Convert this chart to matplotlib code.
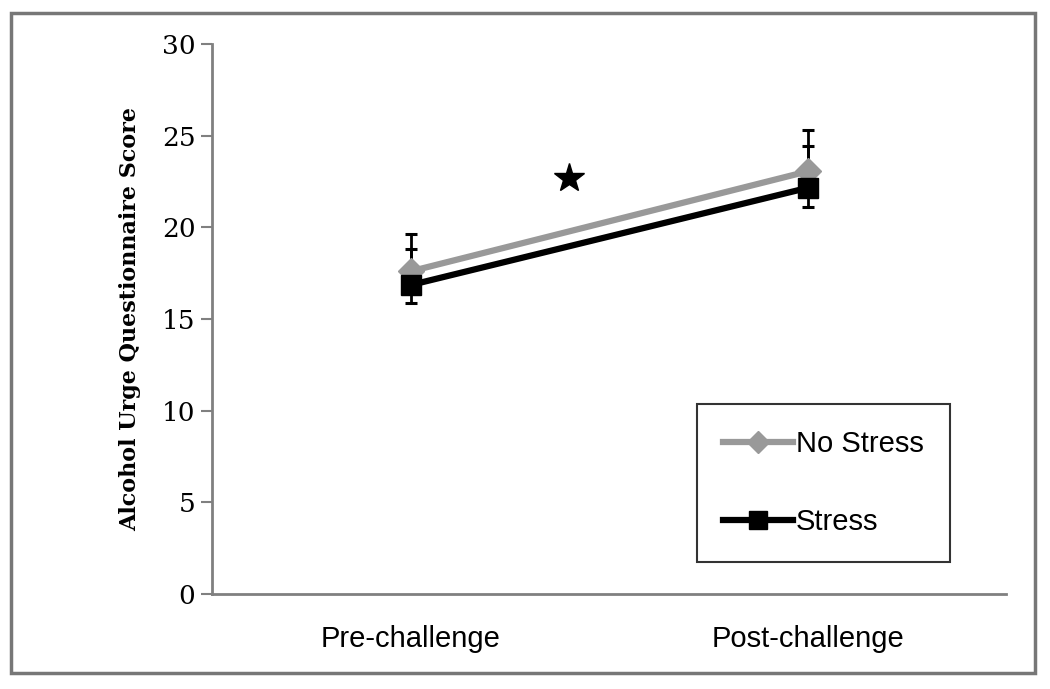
import matplotlib.pyplot as plt
from matplotlib.patches import Rectangle

# data
categories = ["Pre-challenge", "Post-challenge"]
no_stress = [17.6, 23.05]
no_stress_err_up = [2.05, 2.25]
no_stress_err_down = [0.0, 0.0]
stress = [16.85, 22.15]
stress_err_up = [1.95, 2.3]
stress_err_down = [0.95, 1.05]
star_pos = (0.4, 22.7)

fig = plt.figure(figsize=(10.5, 6.89), dpi=100)
ax = fig.add_axes([212 / 1050, 1 - 594 / 689, (1006 - 212) / 1050, (594 - 44) / 689])

x = list(range(len(categories)))

# error bars first, so markers sit on top
ax.errorbar(x, no_stress, yerr=[no_stress_err_down, no_stress_err_up], fmt="none",
            ecolor="black", elinewidth=2, capsize=4.5, capthick=2.2, zorder=2)
ax.errorbar(x, stress, yerr=[stress_err_down, stress_err_up], fmt="none",
            ecolor="black", elinewidth=2, capsize=4.5, capthick=2.2, zorder=2)

ax.plot(x, no_stress, color="#999999", linewidth=4.5, marker="D", markersize=13,
        label="No Stress", zorder=3)
ax.plot(x, stress, color="black", linewidth=4.5, marker="s", markersize=15,
        label="Stress", zorder=4)

# significance star
ax.plot(*star_pos, marker="*", color="black", markersize=22, zorder=5)

ax.set_xlim(-0.5, 1.5)
ax.set_ylim(0, 30)
ax.set_yticks(range(0, 31, 5))
ax.set_xticks(x)
ax.set_xticklabels(categories, fontsize=21, family="Liberation Sans")
for lab in ax.get_yticklabels():
    lab.set_family("DejaVu Serif")
    lab.set_fontsize(19)
ax.tick_params(axis="x", length=0, pad=22)
ax.tick_params(axis="y", length=8, width=1.5, color="#808080", pad=4)

for s in ["top", "right"]:
    ax.spines[s].set_visible(False)
for s in ["left", "bottom"]:
    ax.spines[s].set_color("#808080")
    ax.spines[s].set_linewidth(2)

ax.set_ylabel("Alcohol Urge Questionnaire Score", fontsize=16, family="DejaVu Serif",
              fontweight="bold", labelpad=15)

leg = ax.legend(loc="lower right", bbox_to_anchor=(950 / 1050, 1 - 562 / 689),
                bbox_transform=fig.transFigure, prop={"family": "Liberation Sans", "size": 21},
                frameon=True, fancybox=False, edgecolor="black", borderpad=0.9,
                labelspacing=1.7, handlelength=2.4, handletextpad=0.1, borderaxespad=0,
                markerscale=0.85)
leg.get_frame().set_linewidth(1.5)

# outer border around the figure
fig.patches.append(Rectangle((11 / 1050, 1 - 673 / 689), (1035 - 11) / 1050, (673 - 13) / 689,
                             transform=fig.transFigure, fill=False, edgecolor="#777777",
                             linewidth=2.5))

fig.savefig("out.png", dpi=100)
